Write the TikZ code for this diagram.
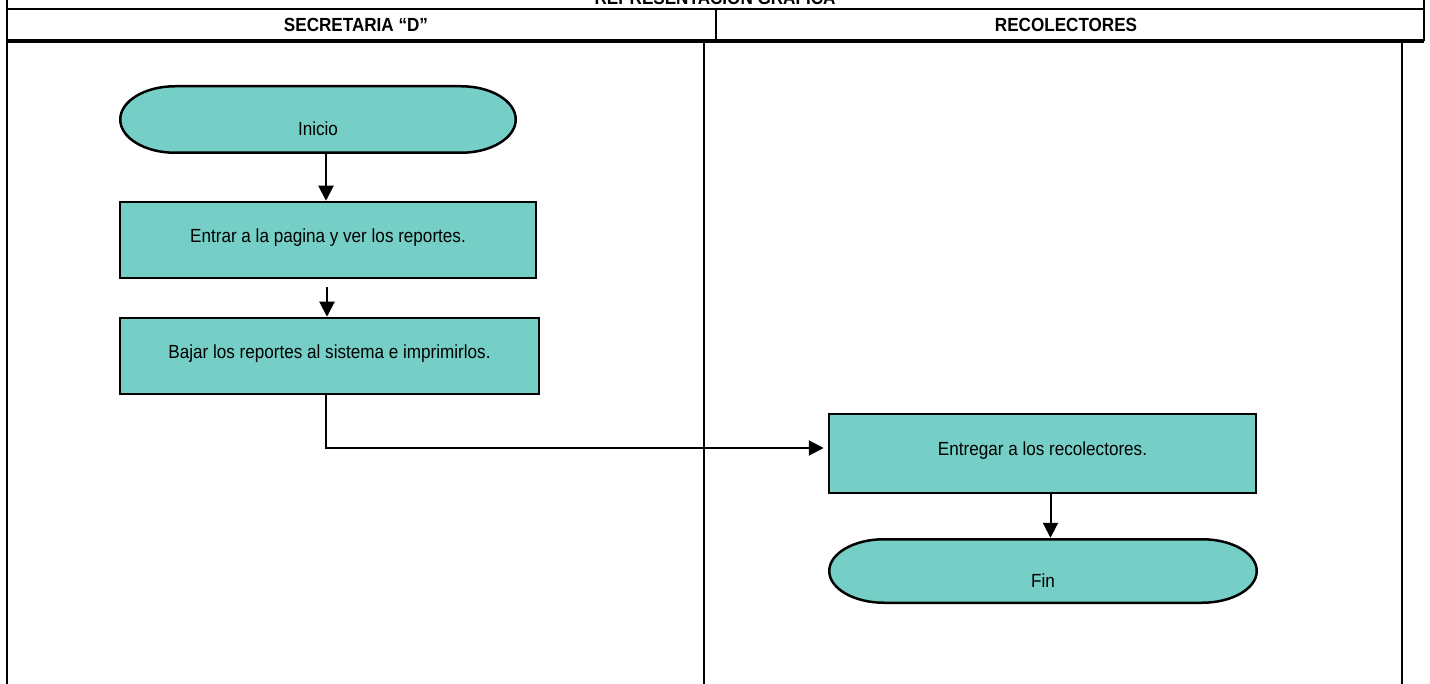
\documentclass[tikz,border=0pt]{standalone}
\usepackage{fontspec}
\setmainfont{Liberation Sans}
\newfontfamily\estrecha[FakeStretch=0.9]{Liberation Sans}
\usepackage{xcolor}
\usepackage{tikz}
\usetikzlibrary{calc, arrows.meta, positioning}

\definecolor{verdeagua}{RGB}{117,207,199}

\tikzset{
    caja/.style={draw, line width=2.5pt, fill=verdeagua,
        text height=13pt, text depth=8pt, font=\estrecha\fontsize{19}{22}\selectfont},
    terminal/.style={text height=36pt, text depth=4pt, font=\estrecha\fontsize{19}{22}\selectfont,
        path picture={
            \draw[line width=2.5pt, fill=verdeagua]
                let \p1=(path picture bounding box.south west),
                    \p2=(path picture bounding box.north east),
                    \n1={(\y2-\y1)/2-1.25pt}
                in (\x1+56pt,\y2-1.25pt) -- (\x2-56pt,\y2-1.25pt)
                arc[start angle=90, end angle=-90, x radius=54.75pt, y radius=\n1]
                -- (\x1+56pt,\y1+1.25pt)
                arc[start angle=270, end angle=90, x radius=54.75pt, y radius=\n1]
                -- cycle;
        }},
    carril/.style={line width=2pt},
    titulo/.style={font=\estrecha\fontsize{19}{22}\selectfont\bfseries},
}

\begin{document}
\begin{tikzpicture}[>={Triangle[length=15pt,width=15pt]}, x=1pt, y=-1pt]
    \useasboundingbox (0,0) rectangle (1430,684);

    % Marco y encabezados
    \draw[carril] (7,0) -- (7,684);
    \draw[carril] (7,9) -- (1424,9);
    \draw[carril] (1424,0) -- (1424,41);
    \draw[carril] (716,9) -- (716,41);
    \draw[line width=3.5pt] (7,41) -- (1424,41);
    \draw[carril] (704,41) -- (704,684);
    \draw[carril] (1402,41) -- (1402,684);
    \node[titulo, anchor=base] (graf) at (715,5) {REPRESENTACION GRAFICA};
    \node[titulo, anchor=base] (secr) at (356,32) {SECRETARIA “D”};
    \node[titulo, anchor=base] (reco) at (1066,32) {RECOLECTORES};

    % Pasos del proceso
    \node[terminal, minimum width=398pt, minimum height=69pt] (inicio) at (318,119.5) {Inicio};
    \node[caja, minimum width=416pt, minimum height=76pt] (entrar) at (328,240)
        {Entrar a la pagina y ver los reportes.};
    \node[caja, minimum width=419pt, minimum height=76pt] (bajar) at (329.5,356)
        {Bajar los reportes al sistema e imprimirlos.};
    \node[caja, minimum width=427pt, minimum height=79pt] (entregar) at (1042.5,453.5)
        {Entregar a los recolectores.};
    \node[terminal, minimum width=430pt, minimum height=66pt] (fin) at (1043,571) {Fin};

    % Flechas
    \coordinate (c2) at (327,287);
    \draw[->, line width=2pt] ([xshift=-2]entrar.north |- inicio.south) -- ([xshift=-2]entrar.north);
    \draw[->, line width=2pt] (c2) -- (c2 |- bajar.north);
    \draw[->, line width=2pt, shorten >=4pt] ([xshift=-3.5]bajar.south) |- ([yshift=5.5]entregar.west);
    \draw[->, line width=2pt] ([xshift=8]entregar.south) -- ([xshift=8]entregar.south |- fin.north);
\end{tikzpicture}
\end{document}
